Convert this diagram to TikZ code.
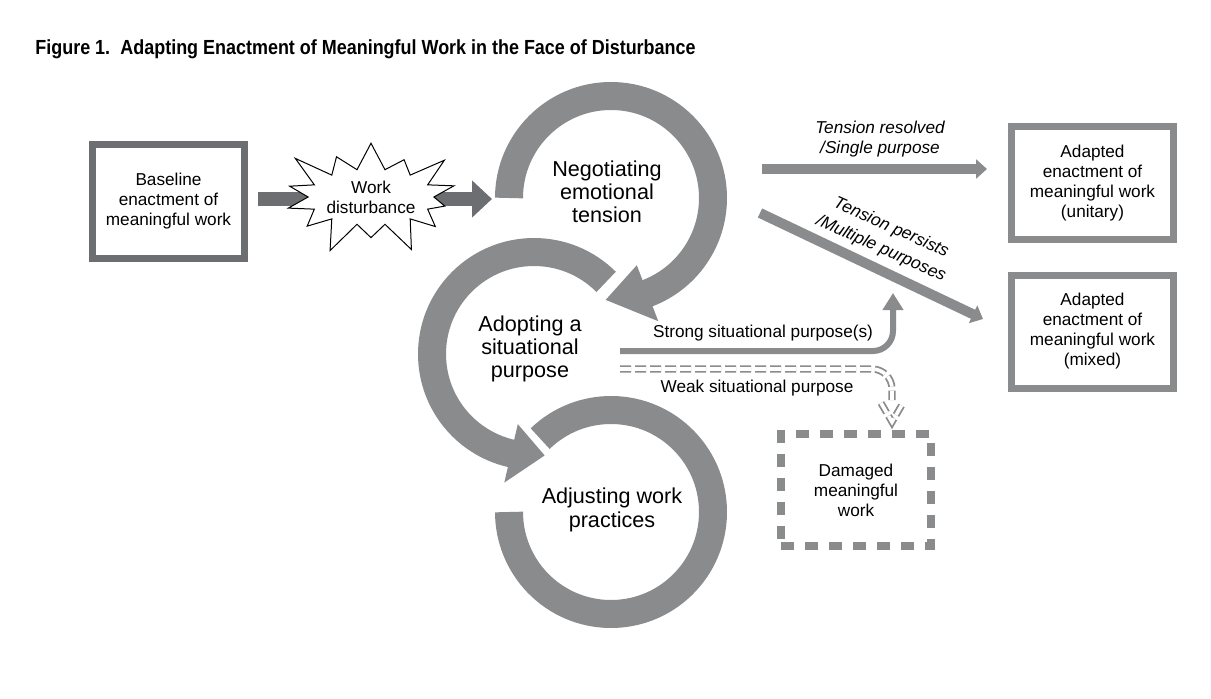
\documentclass[tikz,border=0pt]{standalone}
\usepackage{fontspec}
\setmainfont{Liberation Sans}
\newfontfamily\titlefont[FakeStretch=0.88]{Liberation Sans}
\usepackage{tikz}
\usetikzlibrary{shapes,arrows.meta,calc}
\definecolor{ringgray}{RGB}{138,139,141}
\definecolor{boxgray}{RGB}{109,110,113}
\tikzstyle{box1}=[rectangle, draw=boxgray, line width=3.5pt, minimum width=76pt, minimum height=57pt, align=center, font=\fontsize{8.6}{10}\selectfont]
\tikzstyle{box2}=[rectangle, draw=ringgray, line width=3.5pt, minimum width=81pt, minimum height=56.5pt, align=center, font=\fontsize{8.6}{10}\selectfont]
\tikzstyle{box3}=[rectangle, draw=ringgray, line width=4pt, dash pattern=on 6.5pt off 5.5pt, minimum width=75pt, minimum height=56pt, align=center, font=\fontsize{8.6}{10}\selectfont]
\tikzstyle{burst}=[starburst, draw=black, line width=0.5pt, fill=white, minimum width=88pt, minimum height=64pt, starburst points=14, starburst point height=18pt, inner sep=0pt, align=center, font=\fontsize{8.6}{10}\selectfont]
\tikzstyle{ctext}=[align=center, font=\fontsize{10.8}{11.6}\selectfont]
\tikzstyle{lab}=[align=center, font=\fontsize{8.6}{10}\selectfont]
\tikzstyle{labi}=[align=center, font=\fontsize{8.6}{10}\selectfont\itshape]
\tikzstyle{ring}=[draw=ringgray, line width=14pt]
\tikzstyle{ringtip}=[fill=ringgray]
\tikzstyle{arrow1}=[draw=boxgray, line width=7pt, -{Triangle[length=10pt,width=18pt]}]
\tikzstyle{arrow2}=[draw=ringgray, line width=5pt, -{Triangle[length=5.5pt,width=9.5pt]}]
\tikzstyle{arrow3}=[draw=ringgray, line width=3pt, rounded corners=10pt, -{Triangle[length=8.5pt,width=10pt]}]
\tikzstyle{arrow4}=[draw=ringgray, line width=0.9pt, double=white, double distance=1.8pt, dash pattern=on 5.5pt off 2pt, rounded corners=10pt]

\begin{document}
\begin{tikzpicture}[x=0.5pt,y=0.5pt]
\useasboundingbox (0,0) rectangle (1211,698);
%Title
\node[anchor=base west, inner sep=0pt, font=\titlefont\bfseries\fontsize{10.2}{12}\selectfont] (title) at (35,643) {Figure 1.\enspace Adapting Enactment of Meaningful Work in the Face of Disturbance};

%Circles
\coordinate (c1) at (611,500);
\coordinate (c2) at (534,344);
\coordinate (c3) at (611,186);
\draw[ring] ($(c1)+(180:102)$) arc (180:-70:102);
\fill[ringtip] ($(c1)+(-69:72)$) -- ($(c1)+(-93:102)$) -- ($(c1)+(-69:132)$) -- cycle;
\draw[ring] ($(c2)+(45:102)$) arc (45:258:102);
\fill[ringtip] ($(c2)+(257:72)$) -- ($(c2)+(276:102)$) -- ($(c2)+(257:132)$) -- cycle;
\draw[ring] ($(c3)+(134:102)$) arc (134:-180:102);
\node[ctext] (neg) at (607,506) {Negotiating\\emotional\\tension};
\node[ctext] (adopt) at (530,349) {Adopting a\\situational\\purpose};
\node[ctext] (adjust) at (612,188) {Adjusting work\\practices};

%Boxes
\node[box1] (base) at (168.5,496.5) {Baseline\\enactment of\\meaningful work};
\node[box2] (unit) at (1092.5,515) {Adapted\\enactment of\\meaningful work\\(unitary)};
\node[box2] (mixed) at (1092.5,366.5) {Adapted\\enactment of\\meaningful work\\(mixed)};
\node[box3] (dmg) at (856,208) {Damaged\\meaningful\\work};

%Disturbance
\coordinate (nin) at (492,499);
\draw[arrow1, shorten <=5pt] (base.east |- nin) -- (nin);
\node[burst] (dist) at (371,501) {Work\\disturbance};

%Tension arrows
\coordinate (t1) at (762,529);
\draw[arrow2, shorten >=10.5pt] (t1) -- (t1 -| unit.west);
\node[labi] (lres) at (880,559) {Tension resolved\\/Single purpose};
\coordinate (t2) at (760,485);
\draw[arrow2] (t2) -- ([xshift=-12.5pt,yshift=6.25pt]mixed.west);
\node[labi, rotate=-24] (lper1) at (891,470) {Tension persists};
\node[labi, rotate=-24] (lper2) at (881,449) {/Multiple purposes};

%Situational purpose
\coordinate (sp) at (620,347);
\coordinate (spend) at (893,405);
\draw[arrow3] (sp) -- (sp -| spend) -- (spend);
\node[lab] (lstr) at (763,365) {Strong situational purpose(s)};
\coordinate (wp) at (620,329);
\coordinate (wpend) at (892,298);
\draw[arrow4] (wp) -- (wp -| wpend) -- (wpend);
\draw[arrow4, rounded corners=0pt] ($(wpend)+(-11,-3)$) -- ($(wpend)+(0,-22)$) -- ($(wpend)+(11,-3)$);
\node[lab] (lweak) at (757,310) {Weak situational purpose};

\end{tikzpicture}
\end{document}
